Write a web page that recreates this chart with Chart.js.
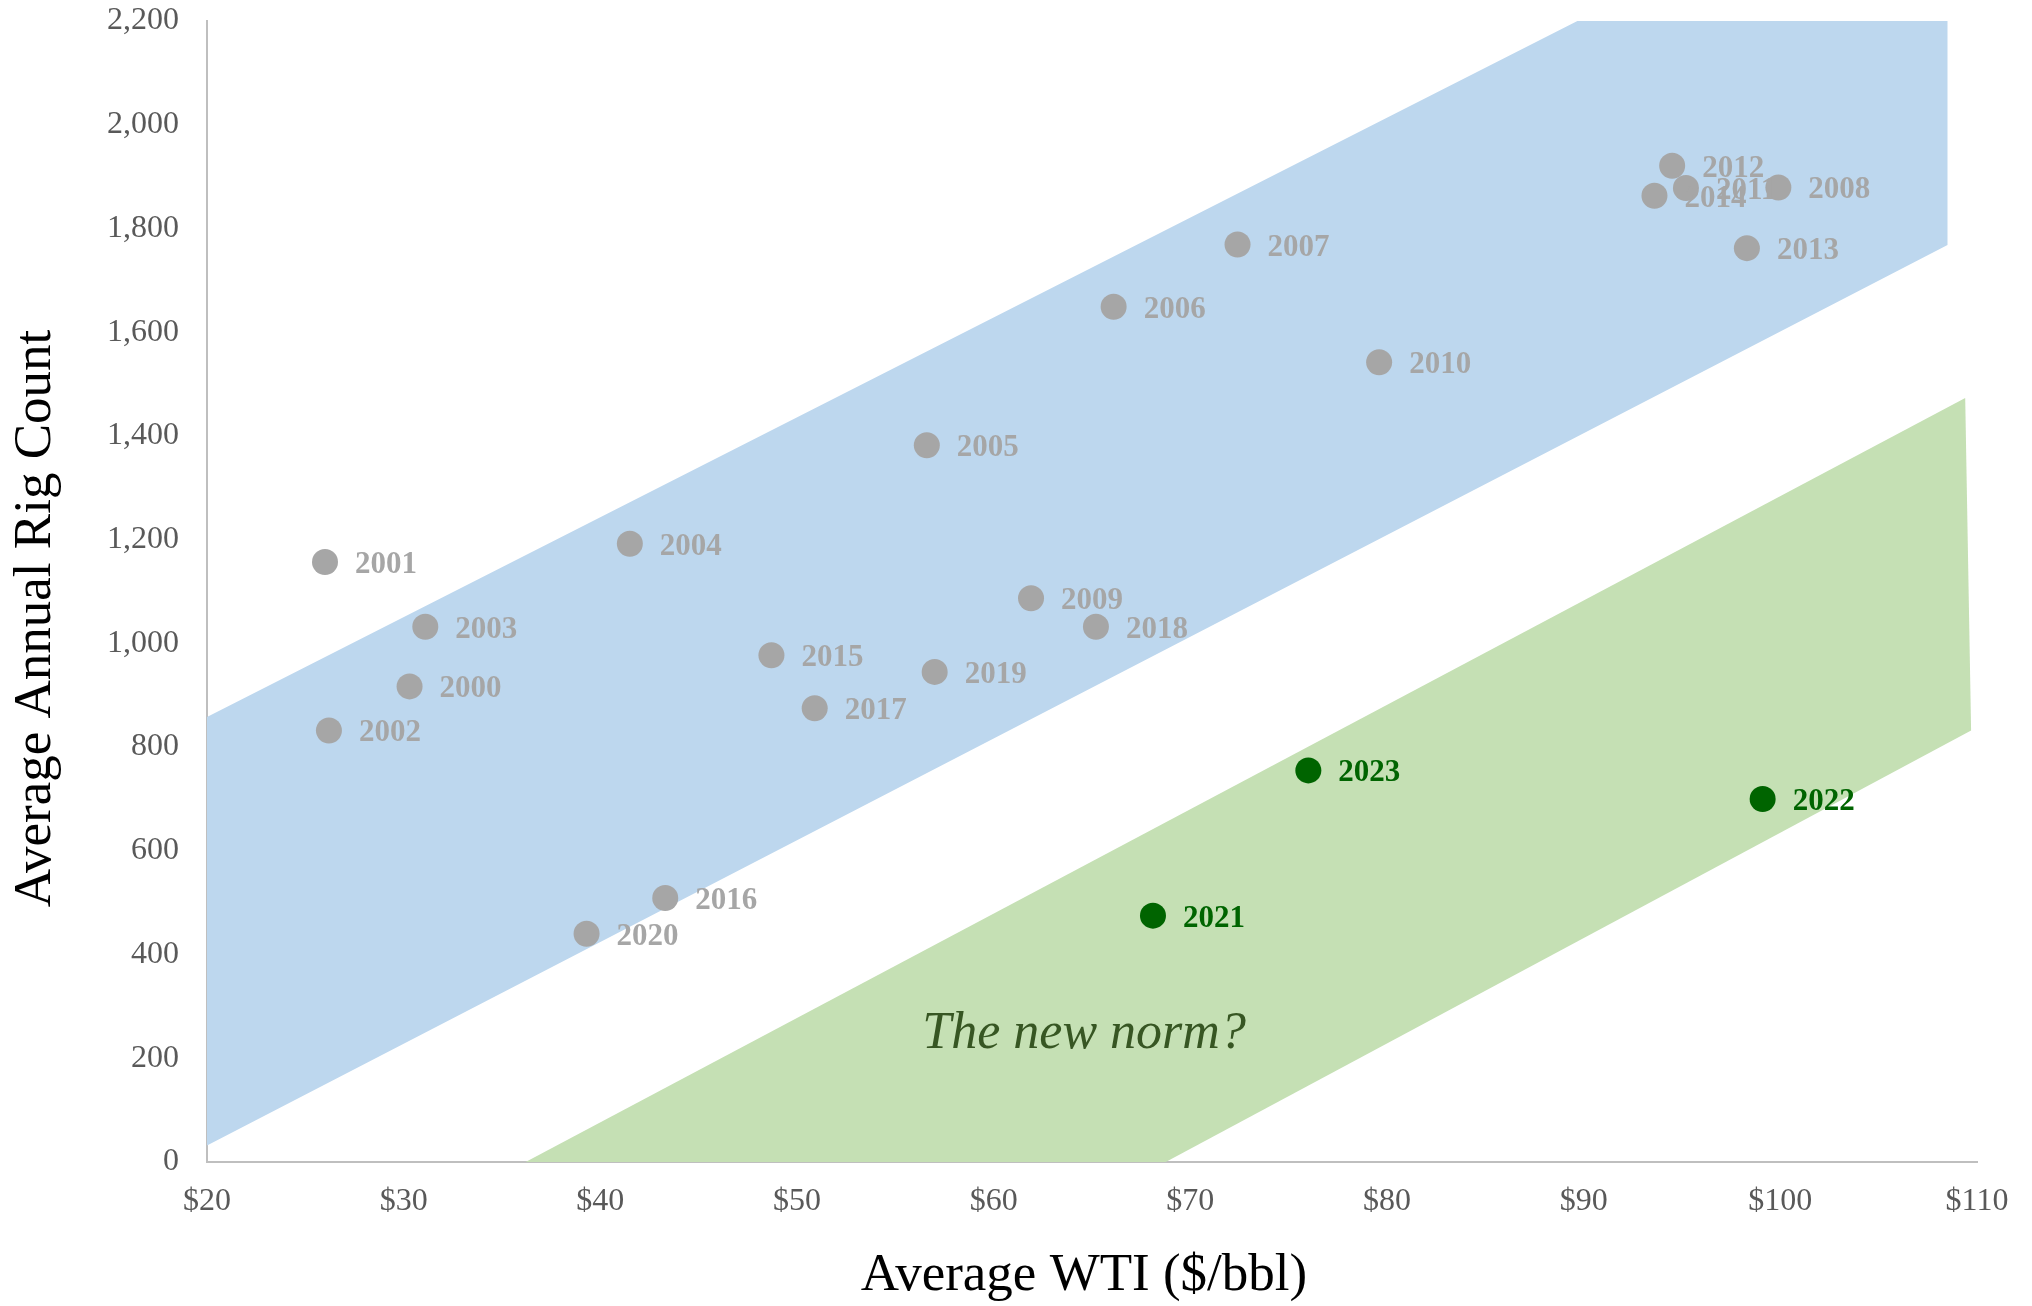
<!DOCTYPE html>
<html>
<head>
<meta charset="utf-8">
<title>Average Annual Rig Count vs Average WTI</title>
<script src="https://cdn.jsdelivr.net/npm/chart.js@4.4.1/dist/chart.umd.min.js"></script>
<style>
  html, body { margin: 0; padding: 0; background: #ffffff; }
  #wrap { width: 2032px; height: 1306px; }
</style>
</head>
<body>
<div id="wrap"><canvas id="chart" width="2032" height="1306"></canvas></div>
<script>
// Annual averages: WTI price ($/bbl) and rig count, 2000-2020
const historyYears = [2000, 2001, 2002, 2003, 2004, 2005, 2006, 2007, 2008, 2009, 2010,
                      2011, 2012, 2013, 2014, 2015, 2016, 2017, 2018, 2019, 2020];
const historyWti   = [30.3, 26.0, 26.2, 31.1, 41.5, 56.6, 66.1, 72.4, 99.9, 61.9, 79.6,
                      95.2, 94.5, 98.3, 93.6, 48.7, 43.3, 50.9, 65.2, 57.0, 39.3];
const historyRigs  = [917, 1157, 832, 1032, 1192, 1382, 1649, 1769, 1879, 1087, 1542,
                      1878, 1921, 1762, 1863, 977, 509, 875, 1032, 945, 440];

// Post-2020 years
const recentYears = [2021, 2022, 2023];
const recentWti   = [68.1, 99.1, 76.0];
const recentRigs  = [475, 700, 755];

// Historical band outline (WTI, rigs)
const histBandWti  = [20, 90.2, 108.5, 108.5, 20];
const histBandRigs = [858, 2210, 2210, 1768, 32];

// "New norm" band outline (WTI, rigs)
const normBandWti  = [36.2, 109.4, 109.7, 68.75];
const normBandRigs = [0, 1473, 832, 0];

// Axis ticks and titles
const wtiTicks = [20, 30, 40, 50, 60, 70, 80, 90, 100, 110];
const rigTicks = [0, 200, 400, 600, 800, 1000, 1200, 1400, 1600, 1800, 2000, 2200];
const xTitle = 'Average WTI ($/bbl)';
const yTitle = 'Average Annual Rig Count';

const SERIF = "'Liberation Serif', 'Times New Roman', serif";

const toPoints = (xs, ys) => xs.map((x, i) => ({ x: x, y: ys[i] }));

// Year labels next to each marker, the band caption and the axis titles
const annotate = {
  id: 'annotate',
  afterDatasetsDraw(chart) {
    const ctx = chart.ctx;
    ctx.save();
    ctx.font = "bold 31px " + SERIF;
    ctx.textAlign = 'left';
    ctx.textBaseline = 'alphabetic';
    chart.data.datasets.forEach((ds, di) => {
      if (!ds.yearList) return;
      const meta = chart.getDatasetMeta(di);
      ctx.fillStyle = ds.labelColor;
      meta.data.forEach((pt, i) => {
        ctx.fillText(String(ds.yearList[i]), pt.x + 30, pt.y + 11);
      });
    });
    // caption inside the green band
    const xs = chart.scales.x, ys = chart.scales.y;
    ctx.font = "italic 52px " + SERIF;
    ctx.fillStyle = '#375623';
    ctx.textAlign = 'center';
    ctx.fillText('The new norm?', xs.getPixelForValue(64.6), ys.getPixelForValue(220));
    ctx.restore();
  },
  afterDraw(chart) {
    const ctx = chart.ctx;
    const area = chart.chartArea;
    ctx.save();
    ctx.font = "53px " + SERIF;
    ctx.fillStyle = '#000000';
    ctx.textAlign = 'center';
    ctx.textBaseline = 'middle';
    // x title sits just left of the plot centre, near the bottom edge
    ctx.fillText(xTitle, (area.left + area.right) / 2 - 8, chart.height - 30);
    // y title, rotated, slightly below the plot centre
    ctx.translate(36, (area.top + area.bottom) / 2 + 27);
    ctx.rotate(-Math.PI / 2);
    ctx.fillText(yTitle, 0, 0);
    ctx.restore();
  }
};

new Chart(document.getElementById('chart'), {
  type: 'scatter',
  data: {
    datasets: [
      {
        label: '2000-2020',
        data: toPoints(historyWti, historyRigs),
        yearList: historyYears,
        labelColor: '#A6A6A6',
        backgroundColor: '#A6A6A6',
        borderWidth: 0,
        pointRadius: 13,
        order: 1
      },
      {
        label: '2021-2023',
        data: toPoints(recentWti, recentRigs),
        yearList: recentYears,
        labelColor: '#006400',
        backgroundColor: '#006400',
        borderWidth: 0,
        pointRadius: 13,
        order: 1
      },
      {
        type: 'line',
        label: 'Historical range',
        data: toPoints(histBandWti, histBandRigs),
        fill: 'shape',
        backgroundColor: '#BDD7EE',
        borderColor: 'rgba(0,0,0,0)',
        borderWidth: 0,
        pointRadius: 0,
        tension: 0,
        order: 3
      },
      {
        type: 'line',
        label: 'New norm',
        data: toPoints(normBandWti, normBandRigs),
        fill: 'shape',
        backgroundColor: '#C5E0B4',
        borderColor: 'rgba(0,0,0,0)',
        borderWidth: 0,
        pointRadius: 0,
        tension: 0,
        order: 2
      }
    ]
  },
  options: {
    responsive: false,
    animation: false,
    devicePixelRatio: 1,
    layout: { padding: { top: 21, right: 55, bottom: 0, left: 0 } },
    plugins: {
      legend: { display: false },
      tooltip: { enabled: false }
    },
    scales: {
      x: {
        type: 'linear',
        min: wtiTicks[0],
        max: wtiTicks[wtiTicks.length - 1],
        afterBuildTicks: s => { s.ticks = wtiTicks.map(v => ({ value: v })); },
        afterFit: s => { s.height = 144; s.paddingLeft = 0; s.paddingRight = 0; },
        grid: { display: false, drawTicks: false },
        border: { display: true, color: '#BFBFBF', width: 2 },
        ticks: {
          padding: 20,
          color: '#595959',
          font: { family: SERIF, size: 32 },
          callback: v => '$' + v
        }
      },
      y: {
        type: 'linear',
        min: rigTicks[0],
        max: rigTicks[rigTicks.length - 1],
        afterBuildTicks: s => { s.ticks = rigTicks.map(v => ({ value: v })); },
        afterFit: s => { s.width = 207; s.paddingTop = 0; s.paddingBottom = 0; },
        grid: { display: false, drawTicks: false },
        border: { display: true, color: '#BFBFBF', width: 2 },
        ticks: {
          padding: 28,
          color: '#595959',
          font: { family: SERIF, size: 32 },
          callback: v => v.toLocaleString('en-US')
        }
      }
    }
  },
  plugins: [annotate]
});
</script>
</body>
</html>
